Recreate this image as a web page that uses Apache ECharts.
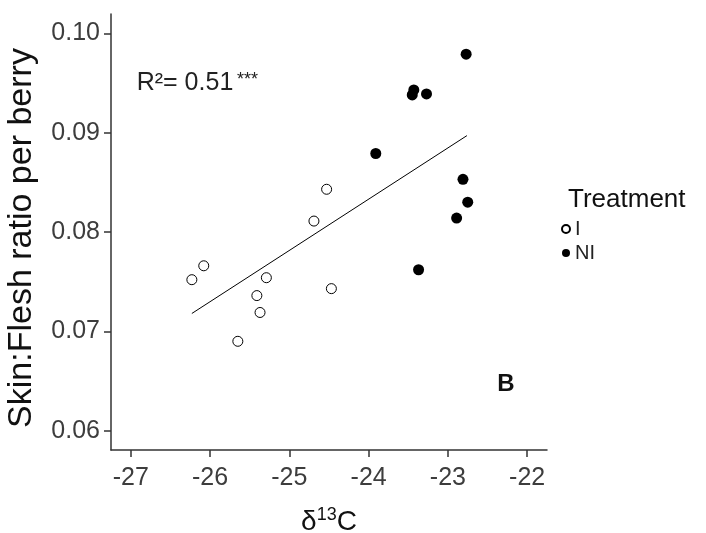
<!DOCTYPE html>
<html><head><meta charset="utf-8">
<script src="https://cdn.jsdelivr.net/npm/echarts@6/dist/echarts.min.js"></script>
<style>html,body{margin:0;padding:0;background:#fff}#c{width:706px;height:533px}</style>
</head><body><div id="c"></div>
<script>
// ---- data ----
const groupNames = ['I', 'NI'];
const iX  = [-24.53, -24.69, -26.08, -26.23, -25.29, -25.41, -25.37, -24.47, -25.65];
const iY  = [0.0843, 0.0811, 0.0766, 0.0752, 0.0754, 0.0736, 0.0719, 0.0743, 0.0690];
const niX = [-22.77, -23.45, -23.43, -23.27, -23.91, -22.81, -22.75, -22.89, -23.37];
const niY = [0.0979, 0.0938, 0.0943, 0.0939, 0.0879, 0.0853, 0.0830, 0.0814, 0.0762];
const fitX = [-26.23, -22.76];
const fitY = [0.0718, 0.0897];
const xTicks = [-27, -26, -25, -24, -23, -22];
const yTicks = [0.06, 0.07, 0.08, 0.09, 0.10];
const yTitle = 'Skin:Flesh ratio per berry';
const legendTitle = 'Treatment';
const r2Text = 'R²= 0.51';
const sigText = '***';
const panelLabel = 'B';

const F = '"Liberation Sans", Arial, Helvetica, sans-serif';
const chart = echarts.init(document.getElementById('c'), null, {renderer: 'canvas'});
const axisCol = '#333';
chart.setOption({
  animation: false,
  backgroundColor: '#fff',
  grid: {left: 111, top: 14, width: 436, height: 436, containLabel: false, outerBoundsMode: 'none'},
  xAxis: {
    type: 'value', min: -27.25, max: -21.75,
    axisLine: {show: true, onZero: false, lineStyle: {color: axisCol, width: 1.5}},
    axisTick: {show: true, length: 7, customValues: xTicks, lineStyle: {color: axisCol, width: 1.5}},
    axisLabel: {customValues: xTicks, margin: 16, fontSize: 25, fontFamily: F, color: '#3d3d3d'},
    splitLine: {show: false},
    name: '{a|δ}{s|13}{a|C}', nameLocation: 'middle', nameGap: 56,
    nameTextStyle: {rich: {
      a: {fontSize: 28, fontFamily: F, color: '#111', verticalAlign: 'bottom', lineHeight: 30},
      s: {fontSize: 18, fontFamily: F, color: '#111', verticalAlign: 'bottom', lineHeight: 18, padding: [0, 0, 12, 0]}
    }}
  },
  yAxis: {
    type: 'value', min: 0.05806, max: 0.10194,
    axisLine: {show: true, onZero: false, lineStyle: {color: axisCol, width: 1.5}},
    axisTick: {show: true, length: 7, customValues: yTicks, lineStyle: {color: axisCol, width: 1.5}},
    axisLabel: {customValues: yTicks, margin: 11, fontSize: 25, fontFamily: F, color: '#3d3d3d',
      padding: [4, 0, 0, 0], formatter: v => Number(v).toFixed(2)},
    splitLine: {show: false},
    name: yTitle, nameLocation: 'middle', nameGap: 72,
    nameTextStyle: {fontSize: 34, fontFamily: F, color: '#111', padding: [0, 12, 0, 0]}
  },
  legend: {
    data: groupNames, orient: 'vertical', left: 561, top: 219, padding: 0,
    itemWidth: 8, itemHeight: 8, itemGap: 4, icon: 'circle',
    textStyle: {fontSize: 20, fontFamily: F, color: '#222'}
  },
  graphic: [
    {type: 'text', x: 568, y: 199.6, style: {text: legendTitle, font: '26px ' + F, fill: '#111', align: 'left', verticalAlign: 'middle'}},
    {type: 'text', x: 136.7, y: 83.6, style: {text: r2Text, font: '25px ' + F, fill: '#222', align: 'left', verticalAlign: 'middle'}},
    {type: 'text', x: 237, y: 80, style: {text: sigText, font: '18px ' + F, fill: '#222', align: 'left', verticalAlign: 'middle'}},
    {type: 'text', x: 506, y: 384, style: {text: panelLabel, font: 'bold 24px ' + F, fill: '#111', align: 'center', verticalAlign: 'middle'}}
  ],
  series: [
    {name: groupNames[0], type: 'scatter', data: iX.map((x, i) => [x, iY[i]]), symbol: 'circle', symbolSize: 10,
      itemStyle: {color: '#fff', borderColor: '#000', borderWidth: 1, opacity: 1}, z: 3},
    {name: groupNames[1], type: 'scatter', data: niX.map((x, i) => [x, niY[i]]), symbol: 'circle', symbolSize: 11,
      itemStyle: {color: '#000', opacity: 1}, z: 3},
    {name: 'fit', type: 'line', data: fitX.map((x, i) => [x, fitY[i]]), symbol: 'none', silent: true,
      lineStyle: {color: '#000', width: 1}, z: 2}
  ]
});
</script></body></html>
